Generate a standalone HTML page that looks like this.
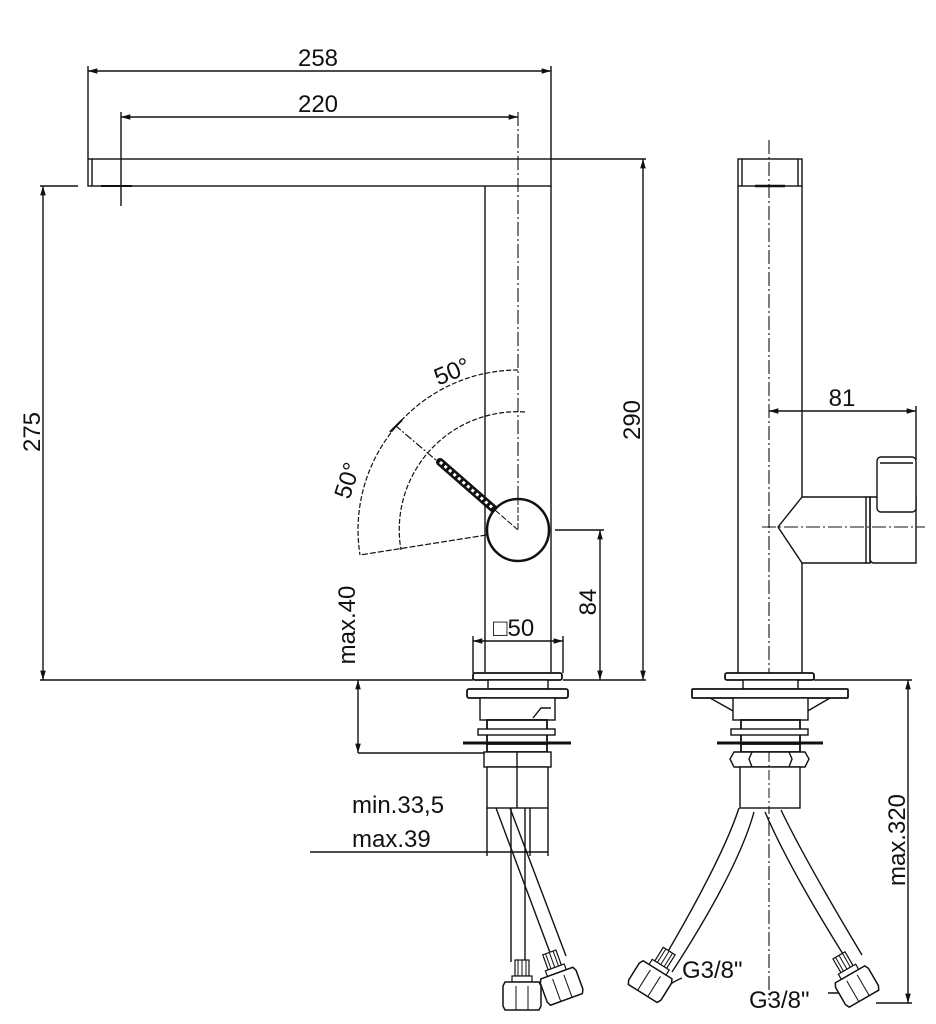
<!DOCTYPE html>
<html><head><meta charset="utf-8"><style>
html,body{margin:0;padding:0;background:#fff}
svg{display:block}
text{font-family:"Liberation Sans",sans-serif;fill:#111}
</style></head><body>
<svg width="936" height="1024" viewBox="0 0 936 1024" xmlns="http://www.w3.org/2000/svg">
<defs>
<marker id="a" viewBox="0 0 10 6" refX="10" refY="3" markerWidth="8" markerHeight="4" orient="auto-start-reverse"><path d="M0,0 L10,3 L0,6 z" fill="#111"/></marker>
<g id="fit">
 <rect x="-7" y="-40" width="14" height="16" fill="#fff" stroke="#111" stroke-width="1.2"/>
 <path d="M-4,-40v16M0,-40v16M4,-40v16" stroke="#111" stroke-width="1"/>
 <rect x="-10" y="-24" width="20" height="6" fill="#fff" stroke="#111" stroke-width="1.2"/>
 <path d="M-17,-18 h34 l2,4 v20 l-2,4 h-34 l-2,-4 v-20 z" fill="#fff" stroke="#111" stroke-width="1.5"/>
 <path d="M-6,-14v24M6,-14v24" stroke="#111" stroke-width="1"/>
</g>
</defs>
<g stroke="#111" fill="none" stroke-width="1.4">
<!-- 258 / 220 dims -->
<line x1="88" y1="71" x2="551" y2="71" marker-start="url(#a)" marker-end="url(#a)"/>
<line x1="88" y1="66" x2="88" y2="159"/>
<line x1="551" y1="66" x2="551" y2="159"/>
<line x1="121" y1="117" x2="518" y2="117" marker-start="url(#a)" marker-end="url(#a)"/>
<line x1="121" y1="112" x2="121" y2="206"/>
<line x1="101" y1="186" x2="132" y2="186" stroke-width="2"/>
<!-- spout -->
<rect x="88" y="159" width="463" height="27"/>
<line x1="92" y1="159" x2="92" y2="186"/>
<line x1="551" y1="159" x2="646" y2="159"/>
<!-- body -->
<line x1="485" y1="186" x2="485" y2="672"/>
<line x1="551" y1="186" x2="551" y2="672"/>
<line x1="518" y1="112" x2="518" y2="530" stroke-dasharray="14,3,2,3" stroke-width="1.1"/>
<!-- 275 -->
<line x1="43" y1="186" x2="43" y2="680" marker-start="url(#a)" marker-end="url(#a)"/>
<line x1="40" y1="186" x2="78" y2="186"/>
<!-- 290 -->
<line x1="643" y1="159" x2="643" y2="680" marker-start="url(#a)" marker-end="url(#a)"/>
<!-- floor -->
<line x1="40" y1="680" x2="473" y2="680"/>
<line x1="563" y1="680" x2="646" y2="680"/>
<!-- arcs -->
<path d="M518,370 A160,160 0 0 0 360,555" stroke-dasharray="5,2" stroke-width="1.2"/>
<path d="M525,412 A118,118 0 0 0 401,550" stroke-dasharray="5,2" stroke-width="1.2"/>
<line x1="518" y1="530" x2="360" y2="555" stroke-dasharray="6,2" stroke-width="1.2"/>
<line x1="518" y1="530" x2="396" y2="426" stroke-dasharray="8,2,2,2" stroke-width="1.2"/>
<line x1="390" y1="432" x2="402" y2="420" stroke-width="2"/>
<!-- lever -->
<line x1="440" y1="462" x2="495" y2="510" stroke-width="8" stroke-linecap="round"/>
<line x1="440" y1="462" x2="495" y2="510" stroke-width="3" stroke="#fff" stroke-dasharray="3,3"/>
<circle cx="518" cy="530" r="31" fill="#fff" stroke-width="2.5"/>
<line x1="518" y1="530" x2="495" y2="510" stroke-dasharray="6,2" stroke-width="1"/>
<line x1="518" y1="499" x2="518" y2="530" stroke-dasharray="6,2" stroke-width="1"/>
<!-- 84 -->
<line x1="555" y1="530" x2="604" y2="530"/>
<line x1="600" y1="530" x2="600" y2="680" marker-start="url(#a)" marker-end="url(#a)"/>
<!-- 50 square -->
<line x1="473" y1="641" x2="563" y2="641" marker-start="url(#a)" marker-end="url(#a)"/>
<line x1="473" y1="636" x2="473" y2="673"/>
<line x1="563" y1="636" x2="563" y2="673"/>
<!-- max.40 -->
<line x1="358" y1="680" x2="358" y2="753" marker-start="url(#a)" marker-end="url(#a)"/>
<line x1="358" y1="753" x2="484" y2="753"/>
<!-- left base stack -->
<rect x="473" y="673" width="89" height="7" rx="2" fill="#fff" stroke-width="1.8"/>
<rect x="488" y="680" width="60" height="9" fill="#fff"/>
<rect x="467" y="689" width="101" height="9" rx="2" fill="#fff" stroke-width="1.8"/>
<rect x="480" y="698" width="75" height="22" fill="#fff"/>
<path d="M533,718 l8,-10 h10" />
<rect x="487" y="720" width="60" height="24" fill="#fff" stroke-width="1.8"/>
<rect x="478" y="729" width="77" height="6" fill="#fff"/>
<line x1="463" y1="743" x2="571" y2="743" stroke-width="3"/>
<rect x="487" y="744" width="60" height="8" fill="#fff" stroke-width="1.8"/>
<rect x="484" y="752" width="67" height="15" fill="#fff"/>
<line x1="517" y1="752" x2="517" y2="767"/>
<rect x="487" y="767" width="61" height="41" fill="#fff"/>
<line x1="517" y1="767" x2="517" y2="808"/>
<!-- min/max dims -->
<line x1="487" y1="808" x2="487" y2="856"/>
<line x1="548" y1="808" x2="548" y2="856"/>
<line x1="530" y1="808" x2="530" y2="856"/>
<line x1="310" y1="852" x2="548" y2="852"/>
<!-- hoses left view -->
<path d="M511,808 V962 M525,808 V962"/>
<path d="M496,808 L552,958 M510,808 L566,956"/>
<!-- right view body -->
<rect x="738" y="159" width="64" height="27"/>
<line x1="742" y1="159" x2="742" y2="186"/><line x1="798" y1="159" x2="798" y2="186"/>
<line x1="755" y1="186" x2="785" y2="186" stroke-width="2.5"/>
<line x1="738" y1="186" x2="738" y2="673"/>
<line x1="802" y1="186" x2="802" y2="497"/>
<line x1="802" y1="563" x2="802" y2="673"/>
<line x1="769" y1="140" x2="769" y2="1000" stroke-dasharray="14,3,2,3" stroke-width="1.1"/>
<!-- 81 -->
<line x1="769" y1="411" x2="916" y2="411" marker-start="url(#a)" marker-end="url(#a)"/>
<line x1="916" y1="406" x2="916" y2="460"/>
<!-- handle side -->
<path d="M802,497 L778,527 L802,563 H866 V497 Z"/>
<path d="M866,497 h4 a4,4 0 0 1 0,0 v66 h-4"/>
<path d="M870,497 H916 V563 H874 Q870,563 870,558 Z"/>
<rect x="877" y="457" width="39" height="55" rx="4" fill="#fff"/>
<line x1="880" y1="463" x2="913" y2="463"/>
<line x1="762" y1="527" x2="925" y2="527" stroke-dasharray="14,3,2,3" stroke-width="1.1"/>
<!-- right base stack -->
<rect x="725" y="673" width="89" height="7" rx="2" fill="#fff" stroke-width="1.8"/>
<rect x="743" y="680" width="55" height="9" fill="#fff"/>
<rect x="692" y="689" width="156" height="9" rx="1" fill="#fff" stroke-width="1.8"/>
<path d="M710,698 L735,712 M830,698 L806,712"/>
<rect x="733" y="698" width="75" height="22" fill="#fff"/>
<rect x="741" y="720" width="59" height="24" fill="#fff" stroke-width="1.8"/>
<rect x="731" y="729" width="77" height="6" fill="#fff"/>
<line x1="717" y1="743" x2="823" y2="743" stroke-width="3"/>
<rect x="741" y="744" width="59" height="8" fill="#fff" stroke-width="1.8"/>
<path d="M734,752 H805 l4,7 l-4,8 H734 l-4,-8 z" fill="#fff"/>
<path d="M752,752 l-3,7 l3,8 M789,752 l3,7 l-3,8"/>
<rect x="740" y="767" width="60" height="41" fill="#fff"/>
<line x1="769" y1="752" x2="769" y2="808" stroke-dasharray="10,3,2,3" stroke-width="1"/>
<!-- max.320 -->
<line x1="814" y1="680" x2="912" y2="680"/>
<line x1="908" y1="680" x2="908" y2="1003" marker-start="url(#a)" marker-end="url(#a)"/>
<line x1="876" y1="1003" x2="912" y2="1003"/>
<!-- hoses right view -->
<path d="M739,808 Q722,860 660,965 M754,812 Q738,870 672,972"/>
<path d="M765,812 Q790,870 848,962 M781,810 Q805,860 862,955"/>
<!-- leaders -->
<path d="M682,978 Q665,985 652,1000"/>
<path d="M828,993 H850"/>
</g>
<use href="#fit" transform="translate(522,1000)"/>
<use href="#fit" transform="translate(563,990) rotate(-20)"/>
<use href="#fit" transform="translate(648,985) rotate(32)"/>
<use href="#fit" transform="translate(859,990) rotate(-30)"/>
<!-- texts -->
<text x="318" y="66" font-size="24" text-anchor="middle">258</text>
<text x="318" y="112" font-size="24" text-anchor="middle">220</text>
<text transform="translate(40,432) rotate(-90)" font-size="24" text-anchor="middle">275</text>
<text transform="translate(640,420) rotate(-90)" font-size="24" text-anchor="middle">290</text>
<text transform="translate(596,602) rotate(-90)" font-size="24" text-anchor="middle">84</text>
<text transform="translate(355,625) rotate(-90)" font-size="24" text-anchor="middle">max.40</text>
<text transform="translate(455,379) rotate(-22)" font-size="24" text-anchor="middle">50°</text>
<text transform="translate(355,483) rotate(-72)" font-size="24" text-anchor="middle">50°</text>
<text x="493" y="636" font-size="24">□50</text>
<text x="352" y="813" font-size="24">min.33,5</text>
<text x="352" y="847" font-size="24">max.39</text>
<text x="842" y="406" font-size="24" text-anchor="middle">81</text>
<text transform="translate(905,840) rotate(-90)" font-size="24" text-anchor="middle">max.320</text>
<text x="682" y="978" font-size="24">G3/8"</text>
<text x="749" y="1008" font-size="24">G3/8"</text>
</svg>
</body></html>
